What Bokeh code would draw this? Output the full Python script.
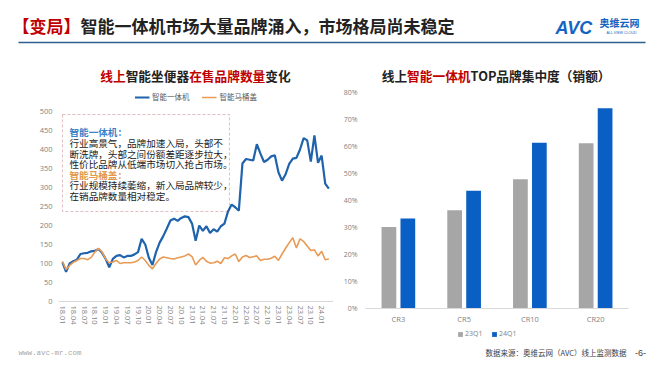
import math
from bokeh.plotting import figure
from bokeh.layouts import column, row
from bokeh.models import (Range1d, FixedTicker, Legend, LegendItem, BoxAnnotation,
                          NumeralTickFormatter, FactorRange, ColumnDataSource)
from bokeh.transform import dodge
from bokeh.core.properties import value
from bokeh.embed import file_html
from bokeh.resources import INLINE

CJK = "Noto Sans CJK SC"
NUM = "Open Sans"

# ---------------- data ----------------
tick_labels = ["18.01", "18.04", "18.07", "18.10", "19.01", "19.04", "19.07", "19.10",
               "20.01", "20.04", "20.07", "20.10", "21.01", "21.04", "21.07", "21.10",
               "22.01", "22.04", "22.07", "22.10", "23.01", "23.04", "23.07", "23.10", "24.01"]

# monthly, 18.01 .. 24.03
all_in_one = [103, 78, 100, 106, 110, 125, 127, 128, 132, 133,
              138, 128, 112, 90, 112, 120, 122, 116, 120, 120,
              124, 130, 165, 150, 115, 96, 130, 155, 172, 192,
              213, 218, 212, 220, 224, 222, 205, 160, 200, 186,
              198, 180, 190, 184, 198, 205, 237, 255, 248, 239,
              363, 375, 373, 371, 414, 389, 367, 373, 382, 385,
              340, 318, 335, 362, 376, 378, 400, 430, 424, 368,
              437, 365, 384, 310, 297]
seat_cover = [106, 84, 95, 103, 108, 113, 113, 110, 116, 130,
              140, 130, 112, 102, 104, 108, 100, 102, 102, 102,
              104, 108, 117, 108, 95, 86, 100, 112, 117, 115,
              113, 112, 115, 117, 120, 125, 118, 96, 108, 116,
              106, 101, 102, 106, 100, 115, 113, 120, 125, 105,
              117, 121, 116, 118, 120, 108, 111, 111, 114, 119,
              108, 125, 140, 155, 168, 141, 165, 158, 146, 134,
              136, 120, 132, 110, 112]
months = list(range(len(all_in_one)))

cr_categories = ["CR3", "CR5", "CR10", "CR20"]
share_23q1 = [0.302, 0.364, 0.479, 0.612]
share_24q1 = [0.333, 0.436, 0.614, 0.742]
series_names = ["23Q1", "24Q1"]

# ---------------- style ----------------
RED = "#c00000"
DARK = "#222222"
BLUE_LINE = "#1f63ad"
ORANGE_LINE = "#e99a55"
GREY_BAR = "#a6a6a6"
BLUE_BAR = "#0a5fc4"
AXIS_TXT = "#7f7f7f"
W = 652


def no_align(f):
    try:
        f.frame_align = False
    except Exception:
        pass


def txt(fig, x, y, s, size, color, font=CJK, style="normal", align="left", baseline="middle"):
    fig.text(x=[x], y=[y], text=[s], text_font=value(font), text_font_size=f"{size}px",
             text_color=color, text_font_style=style, text_align=align, text_baseline=baseline)


def blank(width, height):
    f = figure(width=width, height=height, x_range=Range1d(0, width), y_range=Range1d(height, 0),
               toolbar_location=None, output_backend="svg", x_axis_type=None, y_axis_type=None,
               min_border=0)
    f.grid.visible = False
    f.outline_line_color = None
    no_align(f)
    return f


def style_axis(ax, size, standoff):
    ax.major_tick_line_color = None
    ax.minor_tick_line_color = None
    ax.major_tick_out = 0
    ax.major_tick_in = 0
    ax.minor_tick_out = 0
    ax.major_label_text_font = NUM
    ax.major_label_text_font_size = f"{size}px"
    ax.major_label_text_color = AXIS_TXT
    ax.major_label_standoff = standoff


# ---------------- header (page pixel coordinates) ----------------
hdr = blank(W, 85)
txt(hdr, 12, 25, "【变局】", 17, RED, style="bold")
txt(hdr, 80, 25, "智能一体机市场大量品牌涌入，市场格局尚未稳定", 17, DARK, style="bold")
hdr.line(x=[18, 645], y=[42, 42], line_color="#2f5f8f", line_width=1.5)
txt(hdr, 555, 27, "AVC", 18, "#1565c0", font="Liberation Sans", style="bold italic")
txt(hdr, 599, 22, "奥维云网", 10, "#1565c0", style="bold")
txt(hdr, 606, 32, "ALL VIEW CLOUD", 3.6, "#1565c0", font="Liberation Sans")

# chart titles
fs = 12.7
x0 = 99.75
for s, c in [("线上", RED), ("智能坐便器", DARK), ("在售品牌数量", RED), ("变化", DARK)]:
    txt(hdr, x0, 75, s, fs, c, style="bold")
    x0 += len(s) * fs
x0 = 381.2
for s, c, n in [("线上", DARK, 2), ("智能一体机", RED, 5), ("TOP品牌集中度（销额）", DARK, 0)]:
    txt(hdr, x0, 75, s, fs, c, style="bold")
    x0 += n * fs

# ---------------- left chart ----------------
lp = figure(width=333, height=244, x_range=Range1d(-1.1, 75.3), y_range=Range1d(0, 568.4),
            toolbar_location=None, output_backend="svg",
            min_border_left=58, min_border_right=0, min_border_top=0, min_border_bottom=28)
no_align(lp)
lp.grid.visible = False
lp.outline_line_color = None

r_blue = lp.line(months, all_in_one, line_color=BLUE_LINE, line_width=2.2)
r_orange = lp.line(months, seat_cover, line_color=ORANGE_LINE, line_width=1.6)

lp.yaxis.ticker = FixedTicker(ticks=list(range(0, 501, 50)))
lp.yaxis.axis_line_color = None
style_axis(lp.yaxis[0], 7.5, 6)

lp.xaxis.ticker = FixedTicker(ticks=list(range(0, 3 * len(tick_labels), 3)))
lp.xaxis.major_label_overrides = {3 * i: lab for i, lab in enumerate(tick_labels)}
lp.xaxis.major_label_orientation = -math.pi / 2
lp.xaxis.axis_line_color = "#d9d9d9"
style_axis(lp.xaxis[0], 7.5, 4)

leg = Legend(items=[LegendItem(label="智能一体机", renderers=[r_blue]),
                    LegendItem(label="智能马桶盖", renderers=[r_orange])],
             location="top_center", orientation="horizontal",
             border_line_color=None, background_fill_alpha=0,
             label_text_font=CJK, label_text_font_size="7.5px", label_text_color="#595959",
             glyph_width=15, glyph_height=8, label_standoff=3, spacing=12,
             padding=0, margin=6, label_height=10)
lp.add_layout(leg)


# annotation box (page pixel -> data helpers)
def px2x(px):
    return (px - 62) / 3.6


def py2y(py):
    return (301 - py) / 0.38


lp.add_layout(BoxAnnotation(left=px2x(62), right=px2x(229), top=py2y(114), bottom=py2y(211),
                            fill_alpha=0, line_color="#a0232d", line_dash="3 2", line_width=1))
note_lines = [
    ("智能一体机：", "#3b82c8"),
    ("行业高景气，品牌加速入局，头部不", "#1a1a1a"),
    ("断洗牌，头部之间份额差距逐步拉大，", "#1a1a1a"),
    ("性价比品牌从低端市场切入抢占市场。", "#1a1a1a"),
    ("智能马桶盖：", "#e39a4f"),
    ("行业规模持续萎缩，新入局品牌较少，", "#1a1a1a"),
    ("在销品牌数量相对稳定。", "#1a1a1a"),
]
for k, (s, c) in enumerate(note_lines):
    txt(lp, px2x(69), py2y(132 + k * 10.6), s, 9.6, c, style="bold" if k in (0, 4) else "normal")

# ---------------- right chart ----------------
rp = figure(x_range=FactorRange(*cr_categories), y_range=Range1d(0, 0.8),
            frame_width=263, frame_height=216, toolbar_location=None, output_backend="svg",
            min_border_left=32, min_border_right=24, min_border_top=7, min_border_bottom=21)
no_align(rp)
rp.grid.visible = False
rp.outline_line_color = None
src = ColumnDataSource(dict(cat=cr_categories, q1=share_23q1, q4=share_24q1))
g = rp.vbar(x=dodge("cat", -0.144, range=rp.x_range), top="q1", width=0.224, source=src,
            fill_color=GREY_BAR, line_color=None)
b = rp.vbar(x=dodge("cat", 0.144, range=rp.x_range), top="q4", width=0.224, source=src,
            fill_color=BLUE_BAR, line_color=None)

rp.yaxis.ticker = FixedTicker(ticks=[0, 0.1, 0.2, 0.3, 0.4, 0.5, 0.6, 0.7, 0.8])
rp.yaxis.formatter = NumeralTickFormatter(format="0%")
rp.yaxis.axis_line_color = None
style_axis(rp.yaxis[0], 7, 8)

rp.xaxis.axis_line_color = "#d9d9d9"
style_axis(rp.xaxis[0], 7.5, 5)

# ---------------- footer (page x coordinates, starts at page y = 329) ----------------
ftr = blank(W, 35)
# legend of the bar chart: zero-height proxy bars carrying the bar colours for the swatches
proxy = ColumnDataSource(dict(x=[0], top=[0], bottom=[0]))
pg = ftr.vbar(x="x", top="top", bottom="bottom", width=0, source=proxy,
              fill_color=GREY_BAR, line_color=None)
pb = ftr.vbar(x="x", top="top", bottom="bottom", width=0, source=proxy,
              fill_color=BLUE_BAR, line_color=None)
rleg = Legend(items=[LegendItem(label=series_names[0], renderers=[pg], index=0),
                     LegendItem(label=series_names[1], renderers=[pb], index=0)],
              orientation="horizontal", location=(457, 26),
              border_line_color=None, background_fill_alpha=0,
              label_text_font=NUM, label_text_font_size="7px", label_text_color=AXIS_TXT,
              glyph_width=6, glyph_height=6, label_standoff=2, spacing=6,
              padding=0, margin=0, label_height=8)
ftr.add_layout(rleg)

txt(ftr, 18, 23, "www.avc-mr.com", 7.5, "#a6a6a6", font="Liberation Mono")
txt(ftr, 626, 23, "数据来源：奥维云网（AVC）线上监测数据", 7.5, "#404040", align="right")
txt(ftr, 640, 23, "-6-", 9, "#404040", font="Liberation Sans", align="center")

layout = column(hdr, row(lp, rp), ftr)
open("out.html", "w").write(file_html(layout, INLINE))
